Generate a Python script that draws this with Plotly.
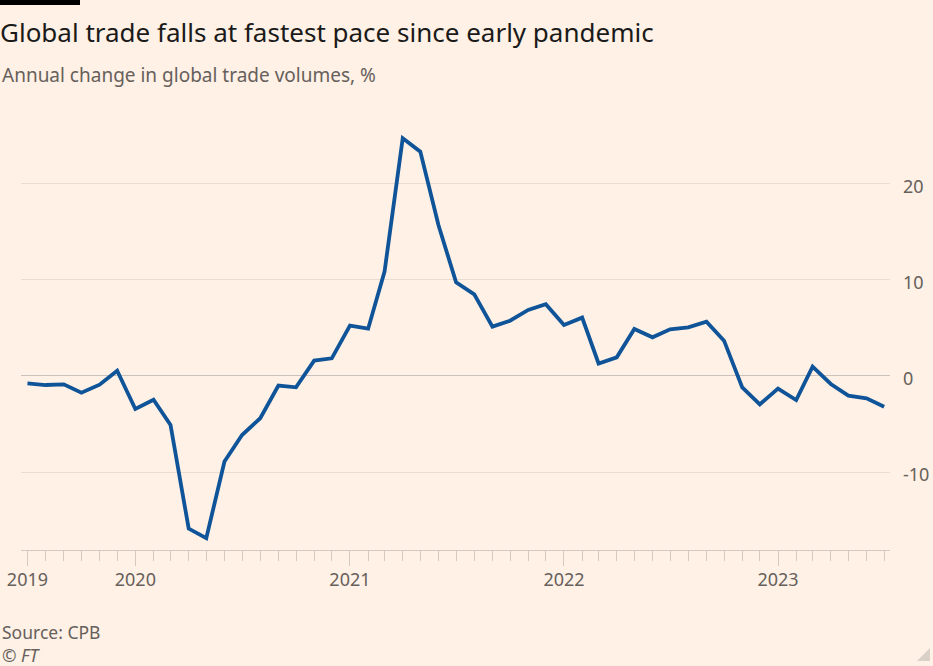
import plotly.graph_objects as go

# Monthly dates, Jul 2019 - Jul 2023
months = [f"{y}-{m:02d}-01" for y in range(2019, 2024) for m in range(1, 13)
          if (y, m) >= (2019, 7) and (y, m) <= (2023, 7)]

trade_change = [
    -0.76, -0.94, -0.87, -1.74, -0.90, 0.55,          # Jul-Dec 2019
    -3.44, -2.47, -5.10, -15.90, -16.90, -8.90,       # Jan-Jun 2020
    -6.15, -4.40, -1.00, -1.18, 1.60, 1.84,           # Jul-Dec 2020
    5.24, 4.93, 10.87, 24.76, 23.37, 15.70,           # Jan-Jun 2021
    9.76, 8.50, 5.14, 5.76, 6.88, 7.47,               # Jul-Dec 2021
    5.31, 6.08, 1.30, 1.94, 4.90, 4.03,               # Jan-Jun 2022
    4.86, 5.07, 5.66, 3.68, -1.18, -2.95,             # Jul-Dec 2022
    -1.32, -2.50, 0.97, -0.83, -2.05, -2.33, -3.20,   # Jan-Jul 2023
]

x_tickvals = ["2019-07-01", "2020-01-01", "2021-01-01", "2022-01-01", "2023-01-01"]
x_ticktext = ["2019", "2020", "2021", "2022", "2023"]
y_tickvals = [-10, 0, 10, 20]
y_ticktext = ["-10", "0", "10", "20"]

title = "Global trade falls at fastest pace since early pandemic"
subtitle = "Annual change in global trade volumes, %"
source = "Source: CPB"
credit = "© FT"

BG = "#FFF1E5"
GREY = "#66605c"
AXIS = "#d3c9bf"

fig = go.Figure()
fig.add_trace(go.Scatter(
    x=months, y=trade_change, mode="lines",
    line=dict(color="#0F5499", width=3.8),
    hoverinfo="skip",
))

W, H = 933, 666
ML, MR, MT, MB = 21, 43, 126, 116
plot_h = H - MT - MB

def py(ypx):
    return (H - MB - ypx) / plot_h

def px(xpx):
    return (xpx - ML) / (W - ML - MR)

fig.update_layout(
    width=W, height=H,
    paper_bgcolor=BG, plot_bgcolor=BG,
    margin=dict(l=ML, r=MR, t=MT, b=MB, autoexpand=False),
    showlegend=False,
    hovermode=False,
    font=dict(family="Noto Sans", color=GREY),
    title=dict(text=title, x=0, xref="container", xanchor="left",
               y=1 - 33 / H, yref="container", yanchor="middle",
               pad=dict(l=0, r=0, t=0, b=0),
               font=dict(size=26, color="#1a1a1a", family="Noto Sans")),
    xaxis=dict(
        type="date", range=["2019-06-20", "2023-07-11"],
        tickvals=x_tickvals, ticktext=x_ticktext,
        ticks="outside", ticklen=15, tickwidth=1, tickcolor=AXIS,
        ticklabelstandoff=-2,
        showgrid=False, zeroline=False,
        showline=True, linecolor=AXIS, linewidth=1,
        tickfont=dict(size=18, color=GREY),
        minor=dict(ticks="outside", ticklen=10, tickwidth=1, tickcolor=AXIS,
                   dtick="M1", tick0="2019-07-01", showgrid=False),
    ),
    yaxis=dict(
        side="right", range=[-18.125, 26.04],
        tickvals=y_tickvals, ticktext=y_ticktext,
        showgrid=True, gridcolor="#e9ddd2", gridwidth=1,
        zeroline=True, zerolinecolor="#cbc3bb", zerolinewidth=1,
        ticks="", ticklabelstandoff=12, ticklabelshift=3,
        tickfont=dict(size=18, color=GREY),
        showline=False,
    ),
    annotations=[
        dict(text=subtitle, x=px(0), xref="paper", xanchor="left",
             y=py(75), yref="paper", yanchor="middle", showarrow=False,
             font=dict(size=19, color=GREY)),
        dict(text=source, x=px(0), xref="paper", xanchor="left",
             y=py(632), yref="paper", yanchor="middle", showarrow=False,
             font=dict(size=17.5, color=GREY)),
        dict(text="<i>" + credit + "</i>", x=px(0), xref="paper", xanchor="left",
             y=py(655), yref="paper", yanchor="middle", showarrow=False,
             font=dict(size=17.5, color=GREY)),
    ],
    shapes=[
        dict(type="rect", xref="paper", yref="paper",
             x0=px(0), x1=px(80), y0=py(5), y1=py(0),
             fillcolor="#000000", line=dict(width=0)),
        dict(type="path", xref="paper", yref="paper",
             path=f"M {px(930)} {py(648)} L {px(930)} {py(661)} L {px(917)} {py(661)} Z",
             fillcolor="#d9d0c7", line=dict(width=0)),
    ],
)

fig.write_html(
    "out.html",
    config={"displayModeBar": False, "staticPlot": True},
    post_script="document.body.style.margin='0';document.body.style.overflow='hidden';",
)
